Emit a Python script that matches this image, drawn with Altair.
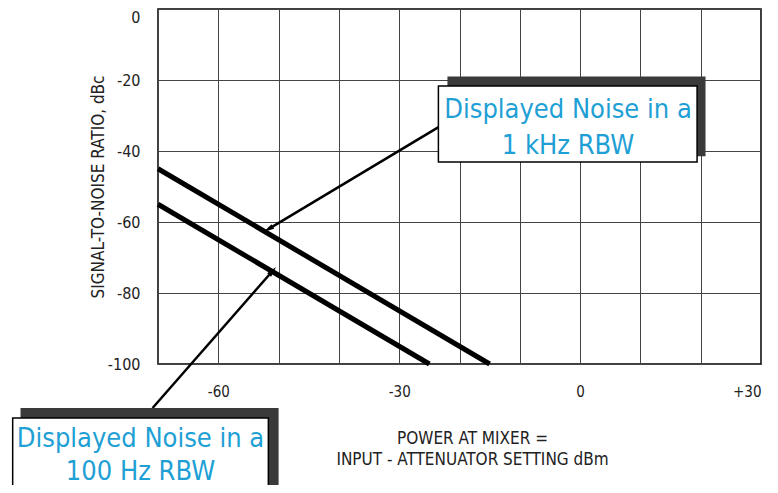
import altair as alt
import pandas as pd

# ---- data ----
series_names = ["1 kHz RBW", "100 Hz RBW"]
line_1khz_x = [-70, -15]
line_1khz_y = [-45, -100]
line_100hz_x = [-70, -25]
line_100hz_y = [-55, -100]

x_ticks = [-70, -60, -50, -40, -30, -20, -10, 0, 10, 20, 30]
y_ticks = [-100, -90, -80, -70, -60, -50, -40, -30, -20, -10, 0]

callout_lines_1 = ["Displayed Noise in a", "1 kHz RBW"]
callout_lines_2 = ["Displayed Noise in a", "100 Hz RBW"]

FONT = "Liberation Sans Narrow, DejaVu Sans Condensed, Roboto, sans-serif"
BLUE = "#1ea0d5"
SHADOW = "#3a3a3a"

lines_df = pd.DataFrame({
    "series": [series_names[0]] * 2 + [series_names[1]] * 2,
    "x": line_1khz_x + line_100hz_x,
    "y": line_1khz_y + line_100hz_y,
})

# annotation geometry in data coordinates
arrows_df = pd.DataFrame({
    "x": [-23.2, -70.9], "y": [-33.0, -112.4],
    "x2": [-51.7, -51.0], "y2": [-62.0, -73.8],
})
shadow_df = pd.DataFrame({
    "x": [-22.0, -92.8], "x2": [20.8, -50.0],
    "y": [-19.0, -112.4], "y2": [-41.5, -135.2],
})
box_df = pd.DataFrame({
    "x": [-23.5, -94.1], "x2": [19.4, -51.7],
    "y": [-21.7, -115.2], "y2": [-43.1, -150.0],
})
text_df = pd.DataFrame({
    "x": [-2.0, -2.0, -72.9, -72.9],
    "y": [-30.8, -40.9, -123.4, -132.6],
    "t": callout_lines_1 + callout_lines_2,
})

xs = alt.Scale(domain=[-70, 30], nice=False, zero=False)
ys = alt.Scale(domain=[-100, 0], nice=False, zero=False)

x_label_expr = ("datum.value == -60 ? '-60' : datum.value == -30 ? '-30' : "
                "datum.value == 0 ? '0' : datum.value == 30 ? '+30' : ''")
y_label_expr = "datum.value % 20 == 0 ? '' + datum.value : ''"

x_axis = alt.Axis(
    values=x_ticks, labelExpr=x_label_expr, ticks=False, domain=False,
    grid=True, gridColor="#444444", gridWidth=1, gridOpacity=1,
    labelFont=FONT, labelFontSize=15, labelColor="#222222", labelPadding=20,
    labelFlush=False,
    labelAlign={"condition": {"test": "datum.value == 30", "value": "right"},
                "value": "center"},
    title=["POWER AT MIXER =", "INPUT - ATTENUATOR SETTING dBm"],
    titleFont=FONT, titleFontSize=17, titleFontWeight="normal",
    titleColor="#222222", titleLineHeight=21, titlePadding=31, titleX=314,
)
y_axis = alt.Axis(
    values=y_ticks, labelExpr=y_label_expr, ticks=False, domain=False,
    grid=True, gridColor="#444444", gridWidth=1, gridOpacity=1,
    labelFont=FONT, labelFontSize=16, labelColor="#222222", labelPadding=18,
    labelFlush=False,
    labelBaseline={"condition": {"test": "datum.value == 0", "value": "top"},
                   "value": "middle"},
    title="SIGNAL-TO-NOISE RATIO, dBc",
    titleFont=FONT, titleFontSize=17, titleFontWeight="normal",
    titleColor="#222222", titlePadding=0,
)

lines = alt.Chart(lines_df).mark_line(
    color="black", strokeWidth=5, strokeCap="butt"
).encode(
    x=alt.X("x:Q", scale=xs, axis=x_axis),
    y=alt.Y("y:Q", scale=ys, axis=y_axis),
    detail="series:N",
)

arrows = alt.Chart(arrows_df).mark_rule(
    color="black", strokeWidth=2.5, clip=False
).encode(
    x=alt.X("x:Q", scale=xs), y=alt.Y("y:Q", scale=ys),
    x2="x2:Q", y2="y2:Q",
)

head1 = alt.Chart(arrows_df.iloc[[0]]).mark_point(
    shape="M-0.5,1L0,-1L0.5,1Z", filled=True, color="black", size=110,
    angle=239, opacity=1
).encode(x=alt.X("x2:Q", scale=xs), y=alt.Y("y2:Q", scale=ys))
head2 = alt.Chart(arrows_df.iloc[[1]]).mark_point(
    shape="M-0.5,1L0,-1L0.5,1Z", filled=True, color="black", size=110,
    angle=41, opacity=1
).encode(x=alt.X("x2:Q", scale=xs), y=alt.Y("y2:Q", scale=ys))

shadows = alt.Chart(shadow_df).mark_rect(color=SHADOW, clip=False).encode(
    x=alt.X("x:Q", scale=xs), x2="x2:Q",
    y=alt.Y("y:Q", scale=ys), y2="y2:Q",
)
boxes = alt.Chart(box_df).mark_rect(
    fill="white", stroke="black", strokeWidth=1.5, clip=False
).encode(
    x=alt.X("x:Q", scale=xs), x2="x2:Q",
    y=alt.Y("y:Q", scale=ys), y2="y2:Q",
)
texts = alt.Chart(text_df).mark_text(
    font=FONT, fontSize=27, color=BLUE, align="center", baseline="alphabetic",
    clip=False,
).encode(
    x=alt.X("x:Q", scale=xs), y=alt.Y("y:Q", scale=ys), text="t:N",
)

chart = alt.layer(
    lines, arrows, head1, head2, shadows, boxes, texts
).properties(
    width=603, height=355,
    autosize=alt.AutoSizeParams(type="none"),
    padding={"left": 150, "top": 1, "right": 9, "bottom": 121},
    background="white",
).configure_view(
    stroke="black", strokeWidth=1.5
)

chart.save("out.html", embed_options={"renderer": "svg", "actions": False})
